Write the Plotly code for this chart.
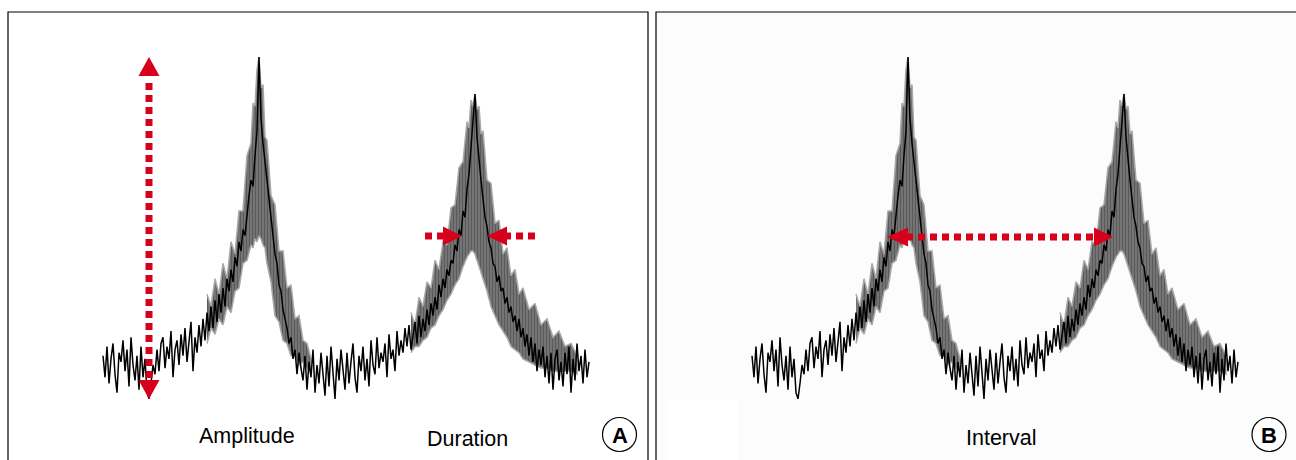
import plotly.graph_objects as go

W, H = 1296, 460

# ---------------- data (sample index vs amplitude, baseline = 0, first peak = 100) -------------
signal_amp = [
    3, -4, 6, -6, 2, 7, -3, -9, 4, 1,
    8, -2, 5, -7, 9, 0, -5, 3, -8, 6,
    -4, 2, -9, -11, -6, 0, -3, 5, -2, 7,
    9, -1, 6, 2, 11, -4, 5, 8, 0, 10,
    3, 12, 1, 7, 14, -2, 9, 4, 13, 6,
    15, 8, 17, 11, 19, 12, 21, 14, 23, 17,
    25, 19, 28, 24, 31, 27, 35, 32, 40, 37,
    44, 42, 50, 55, 60, 58, 68, 76,
    100, 80,
    72, 66, 60, 54, 47, 43, 36, 33, 26, 24,
    18, 15, 12, 7, 9, 2, 5, -3, 4, -1,
    -5, 3, -8, 1, -4, 5, -9, 0, -6, 4,
    -2, -10, 3, -7, 6, -4, -11, 2, -5, 5,
    -3, -8, 4, -6, 1, 7, -4, -9, 3, -2,
    6, -5, 2, -7, 8, 0, -3, 9, -1, 4,
    1, 7, -4, 10, 2, 5, -2, 11, 3, 8,
    4, 12, 6, 13, 5, 10, 14, 7, 16, 9,
    15, 11, 18, 13, 20, 16, 22, 18, 26, 22,
    28, 25, 31, 29, 34, 33, 39, 37, 44, 42,
    50, 48, 57, 62, 70, 78, 88,
    74, 66, 60,
    54, 48, 45, 40, 38, 33, 32, 27, 29, 24,
    25, 20, 22, 17, 19, 14, 16, 11, 15, 9,
    12, 6, 10, 3, 9, 1, 7, -2, 5, 0,
    6, -4, 3, -6, 4, -8, 2, 5, -5, 1,
    -7, 4, -3, 6, -9, 2, -5, 7, -2, 3,
    -6, 5, -4, 1,
]
sample_index = list(range(len(signal_amp)))

# spread of the overlaid sweeps around the two peaks (upper / lower envelope)
band1_t = [52, 54, 56, 58, 60, 62, 64, 66, 68, 70, 72, 74, 75, 76, 77, 78, 79, 80, 81, 82,
           84, 86, 88, 90, 92, 94, 96, 98, 100, 102, 104]
band1_hi = [23, 19, 28, 23, 33, 28, 40, 36, 50, 50, 68, 72, 85, 84, 96, 100, 90, 91, 74, 73,
            55, 52, 37, 37, 25, 26, 15, 16, 8, 7, 2]
band1_lo = [7, 12, 10, 15, 13, 19, 17, 24, 25, 33, 34, 39, 38, 41, 40, 42, 41, 39, 38, 33,
            27, 16, 14, 8, 7, 3, 3, 0, 1, -1, -2]

band2_t = [154, 156, 158, 160, 162, 164, 166, 168, 170, 172, 174, 176, 178, 180, 182, 183,
           184, 185, 186, 187, 188, 189, 190, 192, 194, 196, 198, 200, 202, 204, 206, 208,
           210, 213, 216, 219, 222, 225, 228, 231, 234, 237]
band2_hi = [17, 13, 22, 19, 27, 25, 34, 31, 40, 39, 51, 52, 64, 66, 79, 77, 86, 84, 88, 83,
            84, 75, 76, 60, 59, 46, 47, 36, 38, 29, 31, 23, 25, 18, 20, 13, 15, 9, 11, 6, 7, 3]
band2_lo = [4, 6, 6, 8, 9, 12, 13, 16, 18, 21, 23, 26, 28, 32, 35, 36, 37, 37, 36, 34,
            32, 30, 28, 24, 19, 16, 13, 11, 9, 6, 5, 4, 2, 1, 0, -1, -1, -2, -2, -2, -2, -3]

measure_labels = ["Amplitude", "Duration", "Interval"]
panel_labels = ["A", "B"]

# ---------------- geometry (pixels) ----------------
TOP = 12
BASE_PY = 365          # pixel row of amplitude 0
PX_S = 2.0             # pixels per sample
PX_A = 3.08            # pixels per amplitude unit
PANELS = [
    dict(x0=8, x1=648, origin=103, xa="x", ya="y", xn="xaxis", yn="yaxis"),
    dict(x0=656, x1=1296, origin=752, xa="x2", ya="y2", xn="xaxis2", yn="yaxis2"),
]
RED = "#d7001c"


def amp_of(py):
    return (BASE_PY - py) / PX_A


def samp_of(px, origin):
    return (px - origin) / PX_S


fig = go.Figure()
layout_axes = {}
for p in PANELS:
    for bt, bh, bl in [(band1_t, band1_hi, band1_lo), (band2_t, band2_hi, band2_lo)]:
        fig.add_trace(go.Scatter(
            x=bt + bt[::-1], y=bh + bl[::-1], mode="lines", fill="toself",
            fillcolor="#6a6a6a",
            fillpattern=dict(shape="|", fgcolor="#3a3a3a", bgcolor="#7a7a7a",
                             size=3, solidity=0.45),
            line=dict(color="#a8a8a8", width=1.5),
            xaxis=p["xa"], yaxis=p["ya"], hoverinfo="skip", showlegend=False))
    fig.add_trace(go.Scatter(
        x=sample_index, y=signal_amp, mode="lines",
        line=dict(color="#000000", width=1.5),
        xaxis=p["xa"], yaxis=p["ya"], hoverinfo="skip", showlegend=False))
    layout_axes[p["xn"]] = dict(
        domain=[p["x0"] / W, min(p["x1"] / W, 1)],
        range=[samp_of(p["x0"], p["origin"]), samp_of(p["x1"], p["origin"])],
        visible=False, anchor=p["ya"])
    layout_axes[p["yn"]] = dict(
        domain=[0, 1], range=[amp_of(H), amp_of(0)], visible=False, anchor=p["xa"])

shapes = []
# panel frames
shapes.append(dict(type="rect", xref="paper", yref="paper", x0=656 / W, x1=1.01,
                   y0=-0.05, y1=1 - TOP / H, fillcolor="#fcfcfc",
                   line=dict(color="black", width=1.2), layer="below"))
shapes.append(dict(type="rect", xref="paper", yref="paper", x0=668 / W, x1=738 / W,
                   y0=-0.05, y1=1 - 400 / H, fillcolor="#ffffff",
                   line=dict(width=0), layer="below"))
shapes.append(dict(type="rect", xref="paper", yref="paper", x0=8 / W, x1=648 / W,
                   y0=-0.05, y1=1 - TOP / H, fillcolor="rgba(0,0,0,0)",
                   line=dict(color="black", width=1.2), layer="below"))

DASH = dict(color=RED, width=7, dash="7px,5px")


def hline(p, px0, px1, py):
    a = amp_of(py)
    return dict(type="line", xref=p["xa"], yref=p["ya"],
                x0=samp_of(px0, p["origin"]), x1=samp_of(px1, p["origin"]),
                y0=a, y1=a, line=DASH)


def hhead(p, base_px, apex_px, py, half=9.5):
    a = amp_of(py)
    dh = half / PX_A
    b = samp_of(base_px, p["origin"])
    t = samp_of(apex_px, p["origin"])
    return dict(type="path", xref=p["xa"], yref=p["ya"],
                path=f"M {b},{a + dh} L {t},{a} L {b},{a - dh} Z",
                fillcolor=RED, line=dict(width=0))


def vhead(p, px, base_py, apex_py, half=10.5):
    s = samp_of(px, p["origin"])
    ds = half / PX_S
    b = amp_of(base_py)
    t = amp_of(apex_py)
    return dict(type="path", xref=p["xa"], yref=p["ya"],
                path=f"M {s - ds},{b} L {s},{t} L {s + ds},{b} Z",
                fillcolor=RED, line=dict(width=0))


pA, pB = PANELS
# Amplitude arrow (vertical, double-headed)
sA = samp_of(149, pA["origin"])
shapes.append(dict(type="line", xref="x", yref="y", x0=sA, x1=sA,
                   y0=amp_of(83), y1=amp_of(381), line=DASH))
shapes.append(vhead(pA, 149, 76, 57))
shapes.append(vhead(pA, 149, 380, 399))
# Duration arrows
shapes.append(hline(pA, 425, 444, 236))
shapes.append(hhead(pA, 443, 462, 236))
shapes.append(hline(pA, 535, 506, 236))
shapes.append(hhead(pA, 507, 487, 236))
# Interval arrow
shapes.append(hline(pB, 906, 1096, 237))
shapes.append(hhead(pB, 908, 887, 237))
shapes.append(hhead(pB, 1094, 1113, 237))

# circled panel letters
for cx in (619.5, 1269):
    shapes.append(dict(type="circle", xref="paper", yref="paper",
                       x0=(cx - 17) / W, x1=(cx + 17) / W,
                       y0=1 - (434.5 + 17) / H, y1=1 - (434.5 - 17) / H,
                       line=dict(color="black", width=1.2), fillcolor="white"))

FONT = "Liberation Sans, Arial, Helvetica, sans-serif"
annotations = []
for txt, px, py in zip(measure_labels, [247.5, 467, 1001], [436, 439, 438]):
    annotations.append(dict(text=txt, x=px / W, y=1 - py / H, xref="paper", yref="paper",
                            showarrow=False, xanchor="center", yanchor="middle",
                            font=dict(family=FONT, size=21.5, color="black")))
for txt, px in zip(panel_labels, [619.5, 1269]):
    annotations.append(dict(text=f"<b>{txt}</b>", x=px / W, y=1 - 435 / H,
                            xref="paper", yref="paper", showarrow=False,
                            xanchor="center", yanchor="middle",
                            font=dict(family=FONT, size=22, color="black")))

fig.update_layout(
    width=W, height=H, margin=dict(l=0, r=0, t=0, b=0),
    paper_bgcolor="white", plot_bgcolor="rgba(0,0,0,0)",
    showlegend=False, shapes=shapes, annotations=annotations, **layout_axes)

fig.write_html("out.html",
               config={"displayModeBar": False},
               post_script="document.body.style.margin='0';"
                           "document.body.style.overflow='hidden';")
